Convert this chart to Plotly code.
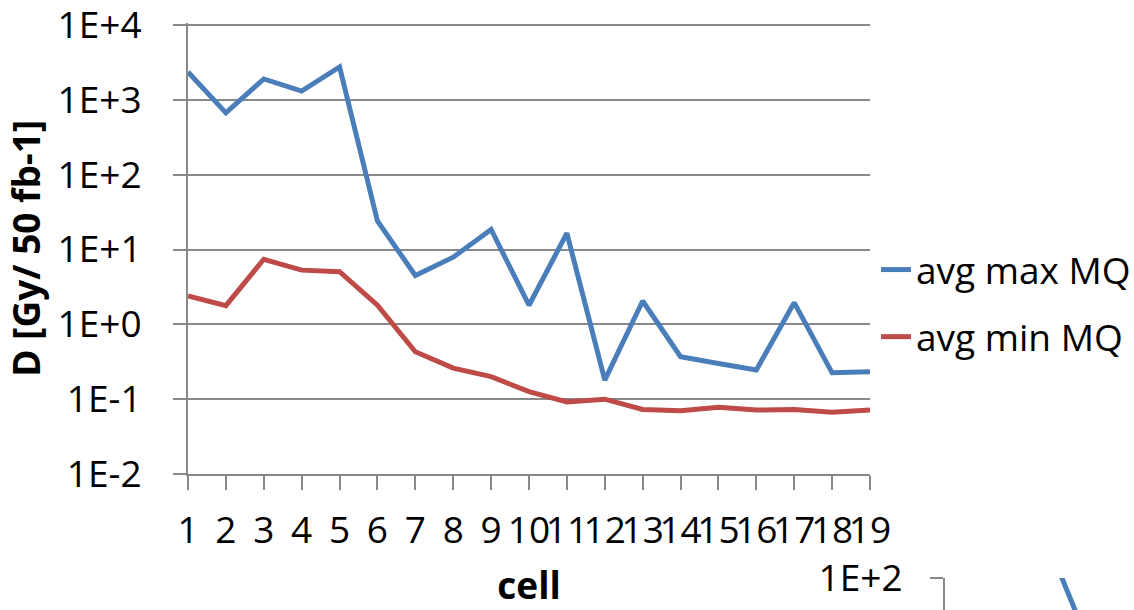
import plotly.graph_objects as go

# Dose per cell, two series (log scale)
cells = list(range(1, 20))
avg_max_mq = [2350, 670, 1900, 1310, 2750, 24, 4.5, 7.9, 18.5, 1.8, 16.5,
              0.18, 2.05, 0.37, 0.30, 0.245, 1.95, 0.225, 0.232]
avg_min_mq = [2.4, 1.78, 7.4, 5.3, 5.05, 1.8, 0.43, 0.26, 0.20, 0.126, 0.092,
              0.10, 0.073, 0.070, 0.078, 0.0716, 0.073, 0.0667, 0.0716]

# Top edge of the next chart below (only its first segment shows)
next_cells = [4, 5]
next_max_mq = [131, 7.5]

y_tickvals = [1e-2, 1e-1, 1e0, 1e1, 1e2, 1e3, 1e4]
y_ticktext = ["1E-2", "1E-1", "1E+0", "1E+1", "1E+2", "1E+3", "1E+4"]

BLUE = "#4A7EBB"
RED = "#BE4B48"
GRID = "#898989"
FONT = "Open Sans"
FS = 37

W, H = 1134, 610
# log range of the main axis; a small headroom above 1E+4 keeps its gridline drawn
Y_LO, Y_HI = -2, 4.03
DEC = (474 - 25) / 6.0  # pixels per decade
top_px = 25 - (Y_HI - 4) * DEC

fig = go.Figure()
fig.add_trace(go.Scatter(x=cells, y=avg_max_mq, mode="lines", name="avg max MQ",
                         line=dict(color=BLUE, width=5), legendgroup="a"))
fig.add_trace(go.Scatter(x=cells, y=avg_min_mq, mode="lines", name="avg min MQ",
                         line=dict(color=RED, width=5), legendgroup="b"))
fig.add_trace(go.Scatter(x=next_cells, y=next_max_mq, mode="lines", showlegend=False,
                         line=dict(color=BLUE, width=5), xaxis="x2", yaxis="y2"))

axis_font = dict(family=FONT, size=FS, color="black")

fig.update_layout(
    width=W, height=H,
    margin=dict(l=0, r=0, t=0, b=0, autoexpand=False),
    paper_bgcolor="white", plot_bgcolor="white",
    font=axis_font,
    xaxis=dict(
        domain=[188 / W, 870 / W], range=[1, 19], automargin=False,
        tickmode="array", tickvals=cells, ticktext=[str(c) for c in cells],
        tickangle=0, ticks="outside", ticklen=14, tickwidth=2, tickcolor=GRID,
        showline=True, linecolor=GRID, linewidth=2, showgrid=False, zeroline=False,
        ticklabelstandoff=9,
        title=dict(text="<b>cell</b>", font=axis_font, standoff=37),
    ),
    yaxis=dict(
        domain=[(H - 474) / H, (H - top_px) / H], type="log", range=[Y_LO, Y_HI],
        automargin=False, ticklabeloverflow="allow",
        tickmode="array", tickvals=y_tickvals, ticktext=y_ticktext,
        ticks="outside", ticklen=13, tickwidth=2, tickcolor=GRID,
        showline=True, linecolor=GRID, linewidth=2,
        showgrid=True, gridcolor=GRID, gridwidth=2, zeroline=False,
        ticklabelstandoff=24,
        title=dict(text="<b>D [Gy/ 50 fb-1]</b>", font=axis_font, standoff=9),
    ),
    xaxis2=dict(
        domain=[945 / W, 1], range=[1, 6], anchor="y2", automargin=False,
        visible=False, showgrid=False, zeroline=False,
    ),
    yaxis2=dict(
        domain=[0, (H - 578) / H], type="log", range=[1.572, 2.001], anchor="x2",
        automargin=False, ticklabeloverflow="allow",
        tickmode="array", tickvals=[100], ticktext=["1E+2"],
        ticks="outside", ticklen=13, tickwidth=2, tickcolor=GRID,
        showline=True, linecolor=GRID, linewidth=2,
        showgrid=True, gridcolor=GRID, gridwidth=2, zeroline=False,
        ticklabelstandoff=20,
    ),
    legend=dict(
        x=876 / W, xanchor="left", y=(H - 239) / H, yanchor="top",
        font=dict(family=FONT, size=FS, color="black"),
        bgcolor="rgba(0,0,0,0)", tracegroupgap=16, traceorder="grouped",
    ),
    showlegend=True,
)

fig.write_html("out.html")
